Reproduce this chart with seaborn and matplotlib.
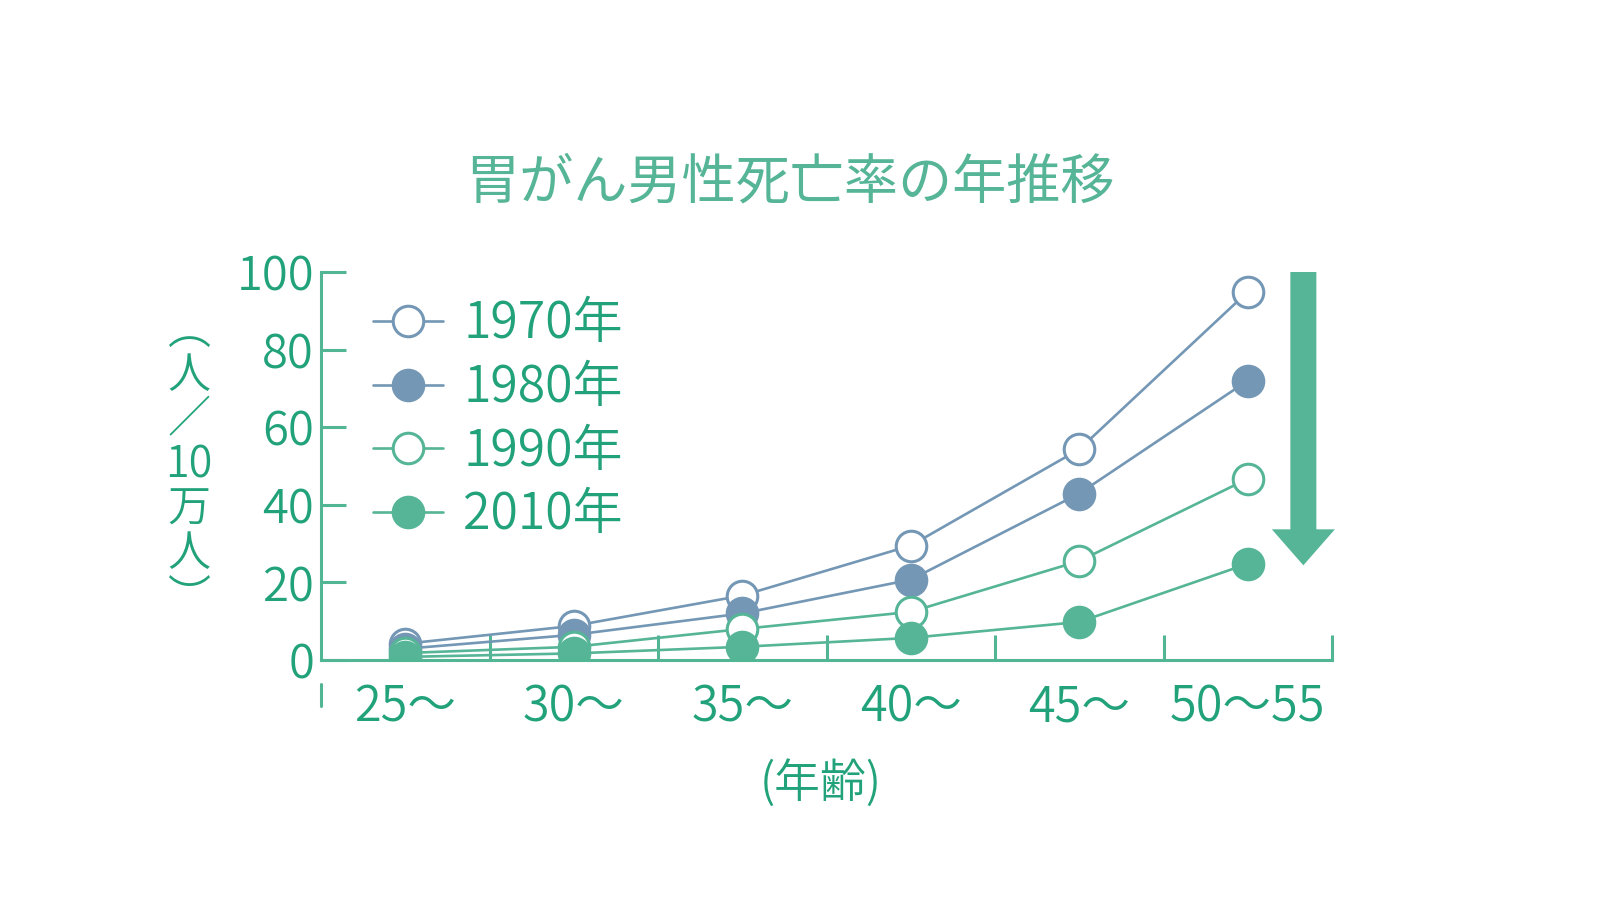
import matplotlib
matplotlib.use("Agg")
import matplotlib.pyplot as plt
import seaborn as sns
import pandas as pd
from matplotlib.lines import Line2D

# ---- data ----
ages = ["25〜", "30〜", "35〜", "40〜", "45〜", "50〜55"]
years = ["1970年", "1980年", "1990年", "2010年"]
v1970 = [4.2, 8.8, 16.6, 29.5, 54.3, 94.9]
v1980 = [2.9, 6.5, 12.0, 20.7, 42.9, 72.0]
v1990 = [1.8, 3.4, 8.0, 12.4, 25.5, 46.7]
v2010 = [0.8, 1.7, 3.4, 5.7, 9.8, 24.8]
yticks = [0, 20, 40, 60, 80, 100]

title = "胃がん男性死亡率の年推移"
ylabel = "︵\n人\n／\n10\n万\n人\n︶"
xlabel = "(年齢)"

# ---- style ----
sns.set_theme(style="white")
plt.rcParams['font.family'] = ['Noto Sans CJK JP', 'DejaVu Sans']

DARK = "#22A27A"
GREEN = "#55B596"
BLUE = "#7397B5"
SPINE = "#52B594"
W = 350

fig = plt.figure(figsize=(16, 9), dpi=100)
ax = fig.add_axes([321 / 1600, 1 - 660 / 900, (1332 - 321) / 1600, (660 - 272) / 900])

series = [
    (years[0], v1970, BLUE, "white"),
    (years[1], v1980, BLUE, BLUE),
    (years[2], v1990, GREEN, "white"),
    (years[3], v2010, GREEN, GREEN),
]
for name, vals, col, face in series:
    df = pd.DataFrame({"age": ages, "rate": vals})
    sns.lineplot(data=df, x="age", y="rate", ax=ax, color=col, linewidth=1.9,
                 marker="o", markersize=22, markerfacecolor=face,
                 markeredgecolor=col, markeredgewidth=2.2, label=name, sort=False)

ax.set_xlim(-0.5, 5.5)
ax.set_ylim(0, 100)
ax.set_xlabel("")
ax.set_ylabel("")

# spines
for s in ["top", "right"]:
    ax.spines[s].set_visible(False)
for s in ["left", "bottom"]:
    ax.spines[s].set_color(SPINE)
    ax.spines[s].set_linewidth(2.2)

ax.set_yticks(yticks)
ax.set_yticklabels([str(t) for t in yticks])
ax.tick_params(axis="y", which="major", left=True, direction="in", length=18, width=2.2,
               color=SPINE, labelsize=34, labelcolor=DARK, pad=5)
ax.set_xticks(range(len(ages)))
ax.set_xticklabels(ages)
ax.tick_params(axis="x", which="major", bottom=True, length=0, labelsize=35,
               labelcolor=DARK, pad=16)
ax.set_xticks([i + 0.5 for i in range(len(ages))], minor=True)
ax.tick_params(axis="x", which="minor", bottom=True, direction="in", length=18, width=2.2,
               color=SPINE)
for lab in ax.get_yticklabels() + ax.get_xticklabels():
    lab.set_fontweight(W)

# small mark below left end of x axis
ax.add_line(Line2D([-0.5, -0.5], [-0.062, -0.119], transform=ax.get_xaxis_transform(),
                   color=SPINE, lw=2.2, clip_on=False))

# downward arrow
ax.annotate("", xy=(5.33, 24.4), xytext=(5.33, 100),
            arrowprops=dict(arrowstyle="simple,head_length=0.36,head_width=0.63,tail_width=0.26",
                            mutation_scale=72, color=GREEN, lw=0, shrinkA=0, shrinkB=0),
            annotation_clip=False)

# legend
handles, labels = ax.get_legend_handles_labels()
leg = ax.legend(handles, labels, loc="upper left",
                bbox_to_anchor=(373 / 1600, 1 - 298 / 900), bbox_transform=fig.transFigure,
                frameon=False, fontsize=36, handlelength=1.4, handletextpad=0.4,
                labelspacing=0.22, borderpad=0, borderaxespad=0)
for t in leg.get_texts():
    t.set_color(DARK)
    t.set_fontweight(W)

# title & labels
fig.text(790 / 1600, 1 - 183 / 900, title, ha="center", va="center",
         fontsize=39, color=GREEN)
fig.text(189 / 1600, 1 - 465 / 900, ylabel, ha="center", va="center",
         fontsize=31, color=DARK, linespacing=1.0, fontweight=W)
fig.text(821 / 1600, 1 - 784 / 900, xlabel, ha="center", va="center",
         fontsize=33, color=DARK, fontweight=W)

fig.savefig("out.png", dpi=100, facecolor="white")
